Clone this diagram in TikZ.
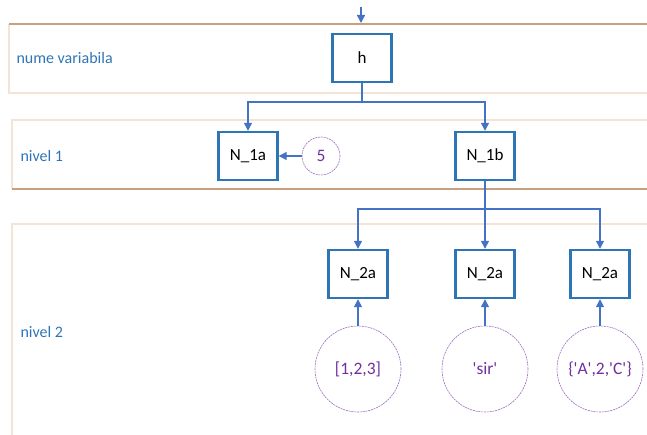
\documentclass[tikz,border=0pt]{standalone}
\usepackage{fontspec}
\setmainfont{Carlito}
\newfontfamily\valfont{Carlito}[Ligatures=TeXOff]
\usetikzlibrary{arrows.meta}
\definecolor{boxblue}{HTML}{2E75B6}
\definecolor{linkblue}{HTML}{4472C4}
\definecolor{valpurple}{HTML}{7030A0}
\definecolor{lanebrown}{HTML}{C9A07E}
\definecolor{lanebeige}{HTML}{F4E4D6}
\tikzset{
  varbox/.style={draw=boxblue, line width=2.4pt, minimum width=59pt, minimum height=48pt, inner sep=0pt, font=\fontsize{17}{19}\selectfont},
  valcirc/.style={circle, draw=valpurple!70, line width=0.6pt, dash pattern=on 2pt off 0.8pt, inner sep=0pt, text=valpurple, font=\valfont\fontsize{17.5}{19}\selectfont},
  link/.style={draw=linkblue, line width=1.3pt, -{Triangle[length=8pt,width=8pt]}},
  plain/.style={draw=linkblue, line width=1.3pt},
  lanelabel/.style={anchor=west, text=boxblue, font=\fontsize{16}{18}\selectfont},
  brownline/.style={draw=lanebrown, line width=1.6pt},
  beigeline/.style={draw=lanebeige, line width=1.6pt}
}
\begin{document}
\begin{tikzpicture}[x=1pt,y=-1pt]
\useasboundingbox (0,0) rectangle (647,435);
% lanes
\draw[beigeline] (9,24) -- (9,93) -- (647,93);
\draw[brownline] (9,24) -- (647,24);
\draw[beigeline] (647,120) -- (12,120) -- (12,189);
\draw[brownline] (12,189) -- (647,189);
\draw[beigeline] (647,224) -- (12,224) -- (12,435);
% lane labels
\node[lanelabel] (l0) at (13,58) {nume variabila};
\node[lanelabel] (l1) at (17,156) {nivel 1};
\node[lanelabel] (l2) at (17,332) {nivel 2};
% nodes
\coordinate (topstart) at (361,7);
\coordinate (topend) at (361,23);
\node[varbox] (h) at (362,58) {h};
\node[varbox] (n1a) at (248,156) {N\_1a};
\node[varbox] (n1b) at (485,156) {N\_1b};
\node[valcirc, minimum size=38pt] (v5) at (321,156) {5};
\node[varbox] (n2a) at (358,274) {N\_2a};
\node[varbox] (n2b) at (485,274) {N\_2a};
\node[varbox] (n2c) at (600,274) {N\_2a};
\node[valcirc, minimum size=86pt] (c1) at (358,369) {[1,2,3]};
\node[valcirc, minimum size=86pt] (c2) at (485,369) {'sir'};
\node[valcirc, minimum size=86pt] (c3) at (600,369) {\{'A',2,'C'\}};
% connectors
\draw[link] (topstart) -- (topend);
\coordinate (j1) at (362,102);
\draw[plain] (h.south) -- (j1);
\draw[link] (j1) -| (n1a.north);
\draw[link] (j1) -| (n1b.north);
\draw[link] (v5.west) -- (n1a.east);
\coordinate (j2) at (485,209);
\draw[plain] (n1b.south) -- (j2);
\draw[link] (j2) -| (n2a.north);
\draw[link] (j2) -- (n2b.north);
\draw[link] (j2) -| (n2c.north);
\draw[link] (c1.north) -- (n2a.south);
\draw[link] (c2.north) -- (n2b.south);
\draw[link] (c3.north) -- (n2c.south);
\end{tikzpicture}
\end{document}
